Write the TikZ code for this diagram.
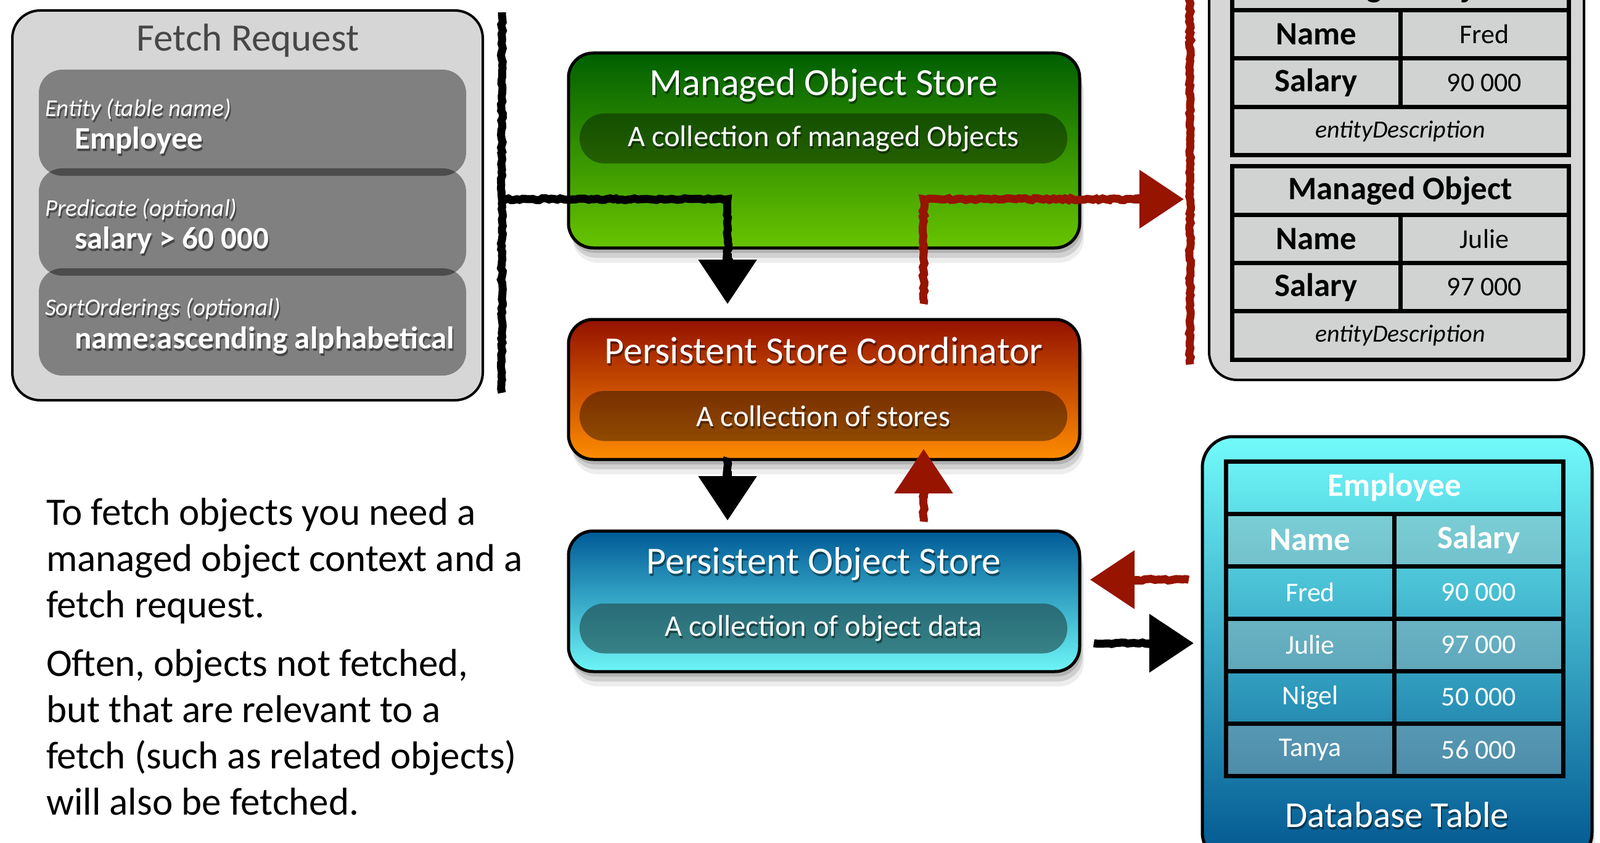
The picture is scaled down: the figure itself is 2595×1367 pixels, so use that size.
\documentclass[tikz,border=0pt]{standalone}
\usepackage{fontspec}
\setmainfont{Carlito}
\usetikzlibrary{arrows.meta,shadows,decorations.pathmorphing,calc}
\definecolor{frbg}{HTML}{D6D6D6}
\definecolor{cellbg}{HTML}{D1D2D2}
\definecolor{skred}{HTML}{961400}
\definecolor{mosTop}{HTML}{005F00}
\definecolor{mosBot}{HTML}{68C400}
\definecolor{pscTop}{HTML}{941200}
\definecolor{pscBot}{HTML}{FF8C00}
\definecolor{posTop}{HTML}{005A96}
\definecolor{posBot}{HTML}{6EF6F8}
\definecolor{dbTop}{HTML}{72FBFB}
\definecolor{dbBot}{HTML}{00558F}
\definecolor{frtitle}{HTML}{474747}
\definecolor{posPill}{HTML}{1D4343}
\definecolor{rowtint}{HTML}{B4B4B4}
\tikzset{
  colbox/.style={draw=black, line width=5pt, rounded corners=40pt,
    minimum width=829pt, inner sep=0pt,
    drop shadow={shadow xshift=3pt, shadow yshift=-8pt, opacity=0.14, fill=black},
    drop shadow={shadow xshift=5pt, shadow yshift=-16pt, opacity=0.12, fill=black},
    drop shadow={shadow xshift=7pt, shadow yshift=-24pt, opacity=0.07, fill=black}},
  pill/.style={rounded corners=40pt, minimum width=791pt, minimum height=81pt,
    inner sep=0pt, text=white, text opacity=1, font=\fontsize{48.5}{55}\selectfont},
  pilltext/.style={inner sep=0pt, text=white, font=\fontsize{48.5}{55}\selectfont},
  boxtitle/.style={text=white, inner sep=0pt, font=\fontsize{62}{70}\selectfont},
  tshadow/.style={text=black, text opacity=0.45, xshift=2pt, yshift=-4pt},
  frinner/.style={fill=black, fill opacity=0.4, rounded corners=38pt, minimum width=693pt, inner sep=0pt},
  frlab/.style={text=white, inner sep=0pt, anchor=west, font=\itshape\fontsize{39}{45}\selectfont},
  frval/.style={text=white, inner sep=0pt, anchor=west, font=\bfseries\fontsize{51}{58}\selectfont},
  mcell/.style={draw=black, line width=7pt, fill=cellbg, minimum height=78.5pt, inner sep=0pt},
  mwide/.style={mcell, minimum width=546pt},
  mhalf/.style={mcell, minimum width=273pt},
  mkey/.style={font=\bfseries\fontsize{53}{60}\selectfont},
  mval/.style={font=\fontsize{44}{50}\selectfont},
  ment/.style={font=\itshape\fontsize{40}{46}\selectfont},
  dcell/.style={draw=black, line width=7pt, minimum height=85pt, inner sep=0pt, text=white},
  dwide/.style={dcell, minimum width=547pt},
  dhalf/.style={dcell, minimum width=273.5pt},
  dtint/.style={fill=rowtint, fill opacity=0.35, text opacity=1},
  dkey/.style={font=\bfseries\fontsize{53}{60}\selectfont},
  dval/.style={font=\fontsize{44}{50}\selectfont},
  body/.style={inner sep=0pt, align=left, anchor=north west, font=\fontsize{63}{75}\selectfont},
  sketch/.style={decorate, decoration={random steps, segment length=5pt, amplitude=1.6pt}},
  blkline/.style={draw=black, line width=13pt},
  redline/.style={draw=skred, line width=13pt},
  tipv/.style={-{Triangle[width=92pt,length=72pt]}},
}
\begin{document}
\begin{tikzpicture}[x=1pt,y=-1pt]
\path[use as bounding box] (0,0) rectangle (2595,1367);
\clip (0,0) rectangle (2595,1367);
\fill[white] (0,0) rectangle (2595,1367);

% Fetch request
\node[draw=black, line width=4pt, fill=frbg, rounded corners=45pt, minimum width=763pt, minimum height=632pt, inner sep=0pt] (fr) at (401.5,333) {};
\node[text=frtitle, inner sep=0pt, font=\fontsize{63}{70}\selectfont] (frt) at (402,66) {Fetch Request};
\node[frinner, minimum height=172pt] (fr1) at (409.5,199) {};
\node[frinner, minimum height=174pt] (fr2) at (409.5,360) {};
\node[frinner, minimum height=174pt] (fr3) at (409.5,522) {};
\node[frlab, tshadow] (fr1aS) at (73,177) {Entity (table name)};
\node[frlab] (fr1a) at (73,177) {Entity (table name)};
\node[frval, tshadow] (fr1bS) at (121,228) {Employee};
\node[frval] (fr1b) at (121,228) {Employee};
\node[frlab, tshadow] (fr2aS) at (73,339) {Predicate (optional)};
\node[frlab] (fr2a) at (73,339) {Predicate (optional)};
\node[frval, tshadow] (fr2bS) at (121,390) {salary > 60 000};
\node[frval] (fr2b) at (121,390) {salary > 60 000};
\node[frlab, tshadow] (fr3aS) at (73,501) {SortOrderings (optional)};
\node[frlab] (fr3a) at (73,501) {SortOrderings (optional)};
\node[frval, tshadow] (fr3bS) at (121,552) {name:ascending alphabetical};
\node[frval] (fr3b) at (121,552) {name:ascending alphabetical};

% Managed object store
\node[colbox, top color=mosTop, bottom color=mosBot, minimum height=316pt] (mos) at (1336.5,244) {};
\node[pill, fill=black, fill opacity=0.37] (mosp) at (1335.5,224.5) {};
\node[pilltext, tshadow] (mospS) at (mosp) {A collection of managed Objects};
\node[pilltext] (mospT) at (mosp) {A collection of managed Objects};
\node[boxtitle, tshadow] (mostS) at (1336,138) {Managed Object Store};
\node[boxtitle] (most) at (1336,138) {Managed Object Store};

% Persistent store coordinator
\node[colbox, top color=pscTop, bottom color=pscBot, minimum height=227pt] (psc) at (1336.5,631.5) {};
\node[pill, fill=black, fill opacity=0.4] (pscp) at (1335.5,674.5) {};
\node[pilltext, tshadow] (pscpS) at (pscp) {A collection of stores};
\node[pilltext] (pscpT) at (pscp) {A collection of stores};
\node[boxtitle, tshadow] (psctS) at (1336,568) {Persistent Store Coordinator};
\node[boxtitle] (psct) at (1336,568) {Persistent Store Coordinator};

% Persistent object store
\node[colbox, top color=posTop, bottom color=posBot, minimum height=228pt] (pos) at (1336.5,975) {};
\node[pill, fill=posPill, fill opacity=0.6] (posp) at (1335.5,1019) {};
\node[pilltext, tshadow] (pospS) at (posp) {A collection of object data};
\node[pilltext] (pospT) at (posp) {A collection of object data};
\node[boxtitle, tshadow] (postS) at (1336,914) {Persistent Object Store};
\node[boxtitle] (post) at (1336,914) {Persistent Object Store};

% Managed objects panel
\node[draw=black, line width=4pt, fill=frbg, rounded corners=45pt, minimum width=608pt, minimum height=716pt, inner sep=0pt] (mo) at (2265,258) {};
\node[mwide, mkey] (t1h) at (2271,-22.75) {};
\node[inner sep=0pt, mkey] (t1hT) at (2271,-19) {Managed Object};
\node[mhalf, mkey] (t1nk) at (2134.5,55.75) {Name};
\node[mhalf, mval] (t1nv) at (2407.5,55.75) {Fred};
\node[mhalf, mkey] (t1sk) at (2134.5,134.25) {Salary};
\node[mhalf, mval] (t1sv) at (2407.5,134.25) {90 000};
\node[mwide, ment] (t1e) at (2271,212.75) {entityDescription};
\node[mwide, mkey] (t2h) at (2271,309.1) {Managed Object};
\node[mhalf, mkey] (t2nk) at (2134.5,387.4) {Name};
\node[mhalf, mval] (t2nv) at (2407.5,387.4) {Julie};
\node[mhalf, mkey] (t2sk) at (2134.5,465.6) {Salary};
\node[mhalf, mval] (t2sv) at (2407.5,465.6) {97 000};
\node[mwide, ment] (t2e) at (2271,543.9) {entityDescription};

% Database table
\node[draw=black, line width=5pt, rounded corners=50pt, top color=dbTop, bottom color=dbBot, minimum width=632pt, minimum height=692pt, inner sep=0pt,
  drop shadow={shadow xshift=3pt, shadow yshift=-8pt, opacity=0.12, fill=black},
  drop shadow={shadow xshift=5pt, shadow yshift=-14pt, opacity=0.08, fill=black}] (db) at (2266,1054) {};
\node[dwide, dkey] (dbh) at (2261.5,790.5) {Employee};
\node[dhalf, dkey, dtint] (dbnk) at (2125,875.5) {Name};
\node[dhalf, dkey, dtint] (dbsk) at (2398.5,875.5) {Salary};
\node[dhalf, dval] (dbr1a) at (2125,960.5) {Fred};
\node[dhalf, dval] (dbr1b) at (2398.5,960.5) {90 000};
\node[dhalf, dval, dtint] (dbr2a) at (2125,1045.5) {Julie};
\node[dhalf, dval, dtint] (dbr2b) at (2398.5,1045.5) {97 000};
\node[dhalf, dval] (dbr3a) at (2125,1130.5) {Nigel};
\node[dhalf, dval] (dbr3b) at (2398.5,1130.5) {50 000};
\node[dhalf, dval, dtint] (dbr4a) at (2125,1215.5) {Tanya};
\node[dhalf, dval, dtint] (dbr4b) at (2398.5,1215.5) {56 000};
\node[inner sep=0pt, font=\fontsize{59}{66}\selectfont, tshadow] (dbtS) at (2266,1321) {Database Table};
\node[text=white, inner sep=0pt, font=\fontsize{59}{66}\selectfont] (dbt) at (2266,1321) {Database Table};

% Body text
\node[body] (txt1) at (75,808) {To fetch objects you need a\\managed object context and a\\fetch request.};
\node[body] (txt2) at (75,1053) {Often, objects not fetched,\\but that are relevant to a\\fetch (such as related objects)\\will also be fetched.};

% Connectors
\coordinate (bkTop) at (814,20);
\coordinate (bkBot) at (814,637);
\coordinate (bkJoin) at (814,323);
\coordinate (bkTip) at (1180,493);
\draw[blkline, sketch] (bkTop) -- (bkBot);
\draw[blkline, sketch] (bkJoin) -| ($(bkTip)+(0,-66)$);
\draw[blkline, tipv] ($(bkTip)+(0,-82)$) -- (bkTip);

\coordinate (rdStart) at (1498,493);
\coordinate (rdTip) at (1920,323);
\coordinate (rvTop) at (1930,-5);
\coordinate (rvBot) at (1930,591);
\draw[redline, sketch] (rvTop) -- (rvBot);
\draw[redline, sketch] (rdStart) |- ($(rdTip)+(-66,0)$);
\draw[redline, tipv] ($(rdTip)+(-82,0)$) -- (rdTip);

\coordinate (a1s) at (1180,742);
\coordinate (a1t) at (1180,844);
\draw[blkline, sketch] (a1s) -- ($(a1t)+(0,-62)$);
\draw[blkline, tipv] ($(a1t)+(0,-80)$) -- (a1t);

\coordinate (a2s) at (1498,846);
\coordinate (a2t) at (1498,728);
\draw[redline, sketch] (a2s) -- ($(a2t)+(0,62)$);
\draw[redline, tipv] ($(a2t)+(0,80)$) -- (a2t);

\coordinate (a3s) at (1928,940);
\coordinate (a3t) at (1768,940);
\draw[redline, sketch] (a3s) -- ($(a3t)+(62,0)$);
\draw[redline, tipv] ($(a3t)+(80,0)$) -- (a3t);

\coordinate (a4s) at (1774,1043);
\coordinate (a4t) at (1936,1043);
\draw[blkline, sketch] (a4s) -- ($(a4t)+(-62,0)$);
\draw[blkline, tipv] ($(a4t)+(-80,0)$) -- (a4t);
\end{tikzpicture}
\end{document}
